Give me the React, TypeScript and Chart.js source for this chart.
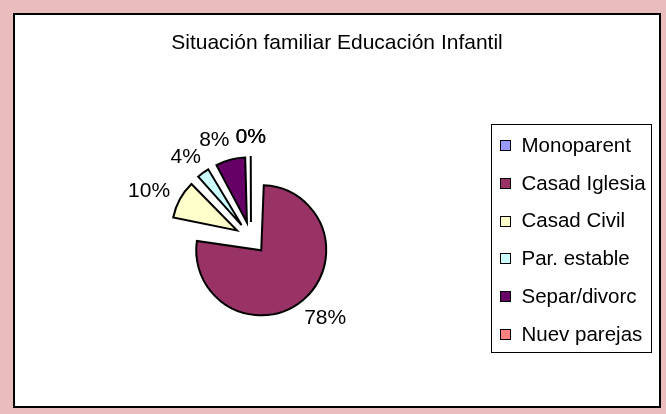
import React, { useEffect, useRef } from "react";
import { Chart, registerables } from "chart.js";

Chart.register(...registerables);

const TITLE = "Situación familiar Educación Infantil";
const categories = ["Monoparent", "Casad Iglesia", "Casad Civil", "Par. estable", "Separ/divorc", "Nuev parejas"];
const values = [0, 78, 10, 4, 8, 0.1];
const colors = ["#9999FF", "#993366", "#FFFFCC", "#CCFFFF", "#660066", "#FF8080"];

const FONT = '"Liberation Sans", Arial, sans-serif';
const EXPLODE = 16;
const RADIUS = 65;

// Chart.js grows an offset arc's radius by offset/4 * (1 - sin(min(PI, circ))); undo that
const explodeFixPlugin = {
  id: "explodeFix",
  beforeDatasetsDraw(chart: any) {
    const meta = chart.getDatasetMeta(0);
    meta.data.forEach((arc: any) => {
      const circ = arc.circumference || 0;
      const fix = 1 - Math.sin(Math.min(Math.PI, circ));
      arc.outerRadius = RADIUS - EXPLODE * fix;
    });
  },
};

const decorPlugin = {
  id: "decor",
  afterDraw(chart: any) {
    const ctx = chart.ctx as CanvasRenderingContext2D;
    ctx.save();
    ctx.fillStyle = "#000";
    ctx.font = `21px ${FONT}`;
    ctx.textAlign = "center";
    ctx.textBaseline = "alphabetic";
    ctx.fillText(TITLE, chart.width / 2, 34);

    // percentage labels
    const meta = chart.getDatasetMeta(0);
    const data = chart.data.datasets[0].data as number[];
    const total = data.reduce((a, b) => a + b, 0);
    const placed: { x: number; y: number; w: number; h: number }[] = [];
    const order = meta.data.map((_: any, i: number) => i).reverse();
    order.forEach((i: number) => {
      const arc = meta.data[i];
      const p = arc.getProps(["x", "y", "startAngle", "endAngle"], true);
      const mid = (p.startAngle + p.endAngle) / 2;
      const ux = Math.cos(mid);
      const uy = Math.sin(mid);
      const txt = Math.round((data[i] / total) * 100) + "%";
      const w = ctx.measureText(txt).width;
      const h = 15;
      const d = RADIUS + EXPLODE + 14;
      let cx = p.x + ux * d + (ux * w) / 2;
      const cy = p.y + uy * d + (uy * h) / 2;
      for (const q of placed) {
        if (Math.abs(q.x - cx) < 1 && Math.abs(q.y - cy) < 1) continue;
        const overlapX = Math.abs(q.x - cx) < (q.w + w) / 2 + 6;
        const overlapY = Math.abs(q.y - cy) < (q.h + h) / 2;
        if (overlapX && overlapY) {
          cx = ux < 0 ? q.x - (q.w + w) / 2 - 6 : q.x + (q.w + w) / 2 + 6;
        }
      }
      placed.push({ x: cx, y: cy, w, h });
      ctx.textAlign = "center";
      ctx.fillText(txt, cx, cy + 7.5);
    });

    // legend
    ctx.font = `20.5px ${FONT}`;
    const lx = 476.5, ly = 109.5, lw = 160, lh = 228;
    ctx.lineWidth = 1;
    ctx.strokeStyle = "#000";
    ctx.strokeRect(lx, ly, lw, lh);
    ctx.textAlign = "left";
    chart.data.labels.forEach((lab: string, i: number) => {
      const top = 125 + 37.8 * i;
      const bg = (chart.data.datasets[0].backgroundColor as string[])[i];
      ctx.fillStyle = bg;
      ctx.fillRect(485, Math.round(top), 11, 11);
      ctx.strokeRect(485.5, Math.round(top) + 0.5, 10, 10);
      ctx.fillStyle = "#000";
      ctx.fillText(lab, 506.5, top + 11.7);
    });
    ctx.restore();
  },
};

export default function App() {
  const ref = useRef<HTMLCanvasElement | null>(null);
  useEffect(() => {
    if (!ref.current) return;
    const chart = new Chart(ref.current, {
      type: "pie",
      data: {
        labels: categories,
        datasets: [
          {
            data: values,
            backgroundColor: colors,
            borderColor: "#000",
            borderWidth: 2,
            borderJoinStyle: "miter",
            clip: false,
            offset: EXPLODE * 4,
          } as any,
        ],
      },
      options: {
        responsive: false,
        animation: false,
        devicePixelRatio: 1,
        radius: RADIUS,
        layout: { padding: { left: 60, right: 232, top: 80, bottom: 25 } },
        plugins: {
          legend: { display: false },
          title: { display: false },
          tooltip: { enabled: false },
        },
        events: [],
      } as any,
      plugins: [explodeFixPlugin, decorPlugin],
    });
    return () => chart.destroy();
  }, []);

  return (
    <div
      style={{
        position: "absolute",
        left: 0,
        top: 0,
        width: 666,
        height: 414,
        background: "#e9bcbd",
        overflow: "hidden",
      }}
    >
      <div
        style={{
          position: "absolute",
          left: 13,
          top: 13,
          width: 648,
          height: 395,
          boxSizing: "border-box",
          border: "2px solid #000",
          background: "#fff",
        }}
      >
        <canvas ref={ref} width={644} height={391} style={{ display: "block", width: 644, height: 391 }} />
      </div>
    </div>
  );
}
